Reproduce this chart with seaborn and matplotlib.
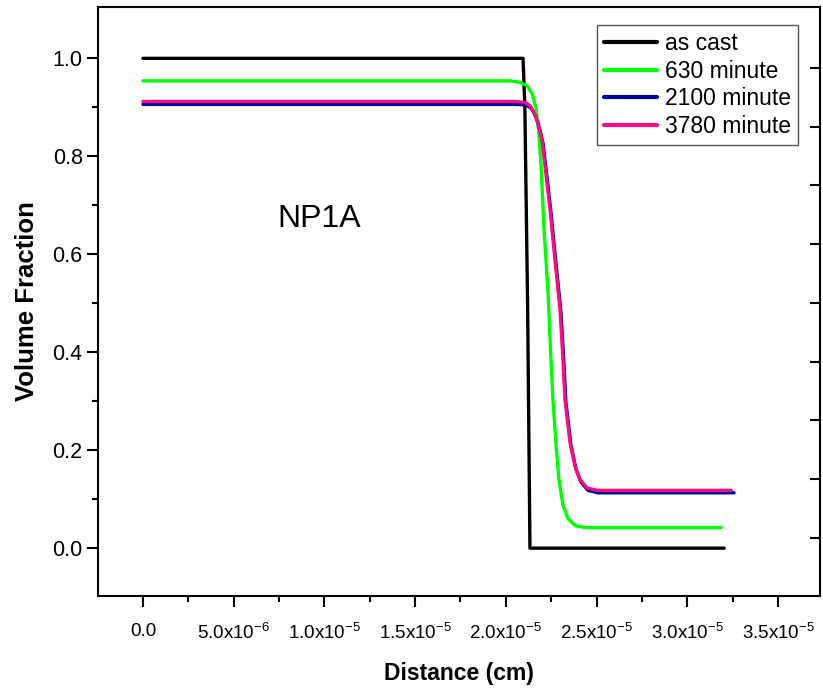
import matplotlib
matplotlib.use("Agg")
import matplotlib.pyplot as plt
import seaborn as sns
import pandas as pd
from matplotlib.ticker import FixedLocator, FixedFormatter

# ---- data ----
ascast_x = [0.0, 2.095e-5, 2.105e-5, 2.12e-5, 2.133e-5, 3.203e-5]
ascast_y = [1.0, 1.0, 0.9, 0.5, 0.0, 0.0]

m630_x = [0.0, 2.023e-5, 2.078e-5, 2.117e-5, 2.145e-5, 2.167e-5, 2.183e-5, 2.194e-5,
          2.211e-5, 2.233e-5, 2.249e-5, 2.260e-5, 2.277e-5, 2.293e-5, 2.315e-5,
          2.343e-5, 2.382e-5, 2.437e-5, 3.187e-5]
m630_y = [0.954, 0.954, 0.951, 0.944, 0.928, 0.898, 0.843, 0.782, 0.649, 0.520,
          0.384, 0.302, 0.211, 0.139, 0.088, 0.060, 0.046, 0.042, 0.042]

m2100_x = [0.0, 2.051e-5, 2.111e-5, 2.140e-5, 2.160e-5, 2.177e-5, 2.192e-5, 2.205e-5,
           2.221e-5, 2.249e-5, 2.276e-5, 2.304e-5, 2.320e-5, 2.331e-5, 2.359e-5,
           2.387e-5, 2.414e-5, 2.453e-5, 2.508e-5, 3.258e-5]
m2100_y = [0.906, 0.906, 0.905, 0.898, 0.885, 0.868, 0.848, 0.827, 0.776, 0.685,
           0.583, 0.481, 0.379, 0.298, 0.210, 0.161, 0.135, 0.118, 0.113, 0.113]

m3780_x = [0.0, 2.051e-5, 2.106e-5, 2.135e-5, 2.155e-5, 2.172e-5, 2.187e-5, 2.200e-5,
           2.216e-5, 2.244e-5, 2.271e-5, 2.299e-5, 2.315e-5, 2.326e-5, 2.354e-5,
           2.382e-5, 2.409e-5, 2.448e-5, 2.503e-5, 3.242e-5]
m3780_y = [0.912, 0.912, 0.910, 0.903, 0.890, 0.873, 0.853, 0.832, 0.781, 0.690,
           0.588, 0.486, 0.384, 0.303, 0.215, 0.166, 0.140, 0.123, 0.118, 0.118]

series_names = ["as cast", "630 minute", "2100 minute", "3780 minute"]
series_colors = ["#000000", "#00FF00", "#00009C", "#FF0A82"]

xtick_vals = [0.0, 5e-6, 1e-5, 1.5e-5, 2e-5, 2.5e-5, 3e-5, 3.5e-5]
xtick_labels = ["0.0", r"5.0x10$^{-6}$", r"1.0x10$^{-5}$", r"1.5x10$^{-5}$",
                r"2.0x10$^{-5}$", r"2.5x10$^{-5}$", r"3.0x10$^{-5}$", r"3.5x10$^{-5}$"]
xminor_vals = [2.5e-6, 7.5e-6, 1.25e-5, 1.75e-5, 2.25e-5, 2.75e-5, 3.25e-5]
ytick_vals = [0.0, 0.2, 0.4, 0.6, 0.8, 1.0]
ytick_labels = ["0.0", "0.2", "0.4", "0.6", "0.8", "1.0"]
yminor_vals = [0.1, 0.3, 0.5, 0.7, 0.9]

# ---- style ----
sns.set_style("ticks")
plt.rcParams["font.family"] = ["Liberation Sans", "DejaVu Sans"]
plt.rcParams["mathtext.fontset"] = "custom"
plt.rcParams["mathtext.rm"] = "Liberation Sans"
plt.rcParams["mathtext.it"] = "Liberation Sans:italic"
plt.rcParams["mathtext.bf"] = "Liberation Sans:bold"
for key in ["text.color", "axes.labelcolor", "xtick.color", "ytick.color"]:
    plt.rcParams[key] = "black"

fig = plt.figure(figsize=(8.23, 6.90), dpi=100)
ax = fig.add_axes([0.119, 0.136, 0.877, 0.854])

xs = [ascast_x, m630_x, m2100_x, m3780_x]
ys = [ascast_y, m630_y, m2100_y, m3780_y]
for name, col, x, y in zip(series_names, series_colors, xs, ys):
    df = pd.DataFrame({"x": x, "y": y})
    sns.lineplot(data=df, x="x", y="y", ax=ax, color=col, linewidth=2.4,
                 label=name, sort=False, estimator=None)

ax.set_xlim(-2.48e-6, 3.73e-5)
ax.set_ylim(-0.098, 1.105)

ax.xaxis.set_major_locator(FixedLocator(xtick_vals))
ax.xaxis.set_major_formatter(FixedFormatter(xtick_labels))
ax.xaxis.set_minor_locator(FixedLocator(xminor_vals))
ax.yaxis.set_major_locator(FixedLocator(ytick_vals))
ax.yaxis.set_major_formatter(FixedFormatter(ytick_labels))
ax.yaxis.set_minor_locator(FixedLocator(yminor_vals))

ax.tick_params(axis="both", which="major", direction="out", length=8, width=1.5,
               colors="black")
ax.tick_params(axis="both", which="minor", direction="out", length=4.5, width=1.5,
               colors="black")
ax.tick_params(axis="x", which="major", labelsize=13.5, pad=11)
ax.tick_params(axis="y", which="major", labelsize=15.5, pad=3)
ax.tick_params(axis="y", which="both", right=False)
ax.tick_params(axis="x", which="both", top=False)

for sp in ax.spines.values():
    sp.set_visible(True)
    sp.set_linewidth(1.5)
    sp.set_color("black")

# right-side inward ticks (secondary scale)
ax2 = ax.twinx()
ax2.set_ylim(-0.99, 9.04)
ax2.yaxis.set_major_locator(FixedLocator([0, 1, 2, 3, 4, 5, 6, 7, 8]))
ax2.tick_params(axis="y", direction="in", length=7, width=1.5, labelright=False,
                colors="black")
for sp in ax2.spines.values():
    sp.set_visible(False)

ax.set_xlabel("Distance (cm)", fontsize=16.5, fontweight="bold", labelpad=14)
ax.set_ylabel("Volume Fraction", fontsize=18.5, fontweight="bold", labelpad=10)

ax.text(9.7e-6, 0.673, "NP1A", fontsize=23, ha="center", va="center")

leg = ax.legend(loc="upper right", bbox_to_anchor=(0.9695, 0.969), fontsize=16.5,
                frameon=True, fancybox=False, framealpha=1, edgecolor="#555555",
                handlelength=2.3, handletextpad=0.35, labelspacing=0.2,
                borderpad=0.3, borderaxespad=0.0)
leg.get_frame().set_linewidth(1.0)
for line in leg.get_lines():
    line.set_linewidth(3.0)

fig.savefig("out.png", dpi=100)
